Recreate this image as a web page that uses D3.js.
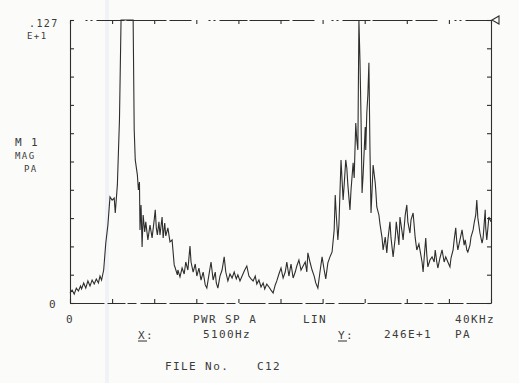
<!DOCTYPE html>
<html>
<head>
<meta charset="utf-8">
<script src="https://cdn.jsdelivr.net/npm/d3@7"></script>
<style>
  body { margin: 0; background: #fbfbf9; }
  text { font-family: "DejaVu Sans Mono", monospace; fill: #3c3c3c; }
</style>
</head>
<body>
<div id="spectrum"></div>
<script>
// power spectrum trace (kHz / linear magnitude, full scale = 127)
const freqKHz = [
  0.0,0.2,0.4,0.6,0.8,1.0,1.1,1.3,1.5,1.7,
  1.9,2.1,2.3,2.5,2.7,2.85,3.0,3.2,3.4,3.6,
  3.8,4.0,4.2,4.3,4.5,4.7,4.85,5.0,5.4,5.8,
  6.0,6.1,6.2,6.4,6.5,6.6,6.65,6.75,6.85,6.95,
  7.1,7.2,7.4,7.6,7.8,8.0,8.1,8.2,8.3,8.45,
  8.55,8.75,8.85,9.0,9.1,9.3,9.5,9.7,9.9,10.0,
  10.2,10.25,10.45,10.65,10.85,11.0,11.2,11.4,11.5,11.7,
  11.9,12.05,12.25,12.45,12.65,12.85,13.0,13.2,13.4,13.6,
  13.8,13.9,14.05,14.25,14.45,14.65,14.8,15.0,15.2,15.4,
  15.6,15.8,15.95,16.15,16.35,16.6,16.8,17.0,17.2,17.4,
  17.6,17.75,17.95,18.15,18.35,18.5,18.7,18.9,19.1,19.3,
  19.5,19.65,19.85,20.05,20.25,20.45,20.6,20.8,21.0,21.2,
  21.4,21.55,21.75,21.95,22.15,22.35,22.5,22.6,22.8,23.0,
  23.2,23.35,23.55,23.75,23.95,24.15,24.3,24.5,24.7,24.9,
  25.1,25.2,25.3,25.45,25.55,25.75,25.85,25.95,26.05,26.2,
  26.3,26.4,26.6,26.7,26.9,27.0,27.15,27.25,27.35,27.45,
  27.55,27.65,27.75,27.85,28.05,28.1,28.2,28.3,28.4,28.5,
  28.6,28.7,28.8,29.0,29.05,29.15,29.35,29.45,29.65,29.75,
  29.95,30.1,30.2,30.4,30.5,30.7,30.9,31.0,31.15,31.25,
  31.35,31.55,31.65,31.85,32.0,32.1,32.3,32.4,32.6,32.8,
  32.95,33.15,33.25,33.45,33.55,33.65,33.8,33.9,34.0,34.2,
  34.4,34.6,34.7,34.85,34.95,35.15,35.35,35.55,35.7,35.9,
  36.1,36.2,36.4,36.5,36.65,36.75,36.85,37.05,37.25,37.45,
  37.55,37.7,37.8,38.0,38.1,38.3,38.4,38.55,38.65,38.75,
  38.95,39.15,39.25,39.45,39.5,39.6,39.8,40.0
];
const magnitude = [
  4.5,5.8,4.0,6.7,5.4,7.6,6.3,9.0,6.7,9.9,
  7.6,10.3,8.5,10.8,9.0,12.1,10.3,14.8,26.9,35.0,
  47.6,46.2,47.1,40.4,53.0,82.2,130,150,160,150,
  130,77.7,64.2,57.5,50.7,54.3,32.8,44.0,25.1,39.5,
  31.9,36.4,28.3,35.0,29.2,37.3,41.8,33.7,30.5,36.4,
  30.5,38.6,29.2,35.9,30.1,33.7,27.4,28.3,17.1,15.7,
  12.6,14.8,11.7,15.7,13.0,18.4,14.8,25.6,18.4,13.9,
  17.5,12.1,15.7,10.3,13.9,8.1,6.7,12.6,18.4,10.3,
  13.9,9.0,6.7,12.1,14.8,20.7,13.9,9.9,13.0,11.2,
  13.9,10.8,12.6,9.9,12.1,14.8,16.6,12.1,10.8,9.9,
  12.1,8.5,10.3,7.2,9.0,6.3,8.5,7.2,5.8,4.5,
  8.1,9.9,13.0,15.7,11.2,13.9,18.4,12.1,17.5,11.2,
  13.9,16.6,19.3,14.8,16.6,18.4,13.9,22.5,18.4,14.8,
  12.1,9.0,6.7,13.9,20.7,14.8,10.8,18.0,20.7,22.9,
  32.8,48.5,39.5,28.3,35.0,64.2,55.2,46.2,53.0,64.2,
  60.6,53.0,41.8,50.7,62.9,56.1,80.8,73.2,68.7,130,
  109.1,83.5,49.4,57.5,79.0,68.7,85.3,93.4,107.8,68.7,
  40.4,50.7,61.9,53.9,50.7,43.1,39.5,35.5,29.2,23.8,
  29.6,22.5,28.3,36.4,29.2,20.7,29.2,36.4,30.5,26.0,
  38.6,31.9,28.3,39.5,44.0,36.4,31.4,37.3,40.4,29.2,
  23.8,26.5,23.8,18.4,13.9,20.2,29.2,21.6,16.2,19.3,
  20.7,18.4,23.8,18.4,15.7,20.2,23.8,18.4,20.7,18.4,
  16.2,20.2,23.8,28.3,33.7,27.4,23.8,28.3,32.8,26.0,
  28.3,23.8,22.9,26.0,29.6,32.8,35.9,39.5,46.2,38.2,
  31.4,26.9,29.2,41.8,33.7,28.3,38.6,36.4
];
const xTickKHz = [0,4,8,12,16,20,24,28,32,36,40];
const yTickVals = [0,12.7,25.4,38.1,50.8,63.5,76.2,88.9,101.6,114.3,127];

const width = 519, height = 383;
const margin = {left: 70, right: 28, top: 20, bottom: 80};

var svg = d3.select("#spectrum")
    .append("svg")
    .attr("width", width)
    .attr("height", height);

svg.append("rect").attr("width", width).attr("height", height).attr("fill", "#fbfbf9");
// faint scanner streak
svg.append("rect").attr("x", 105).attr("y", 0).attr("width", 4).attr("height", height)
    .attr("fill", "#e9eff5").attr("opacity", 0.7);

var x = d3.scaleLinear().domain([0, 40]).range([margin.left, width - margin.right]);
var y = d3.scaleLinear().domain([0, 127]).range([height - margin.bottom, margin.top]).clamp(true);

const ink = "#2e2e2e";

const drawAxis = (axis, tx, ty, dash) => {
    var g = svg.append("g").attr("transform", "translate(" + tx + "," + ty + ")").call(axis);
    g.selectAll("path, line").attr("stroke", ink).attr("stroke-width", 1.1);
    if (dash) g.select(".domain").attr("stroke-dasharray", dash);
    g.selectAll("text").remove();
    return g;
}

drawAxis(d3.axisBottom(x).tickValues(xTickKHz).tickSizeInner(-4).tickSizeOuter(0), 0, y(0), "34,3,18,2,9,4,26,3");
drawAxis(d3.axisTop(x).tickValues(xTickKHz).tickSizeInner(-4).tickSizeOuter(0), 0, y(127), "0,15,2,3,2,4,28,2,40,3,22,2");
drawAxis(d3.axisLeft(y).tickValues(yTickVals).tickSizeInner(-4).tickSizeOuter(0), x(0), 0);
drawAxis(d3.axisRight(y).tickValues(yTickVals).tickSizeInner(-4).tickSizeOuter(0), x(40), 0);

// reference level marker
svg.append("path")
    .attr("d", "M" + (x(40) + 1) + "," + y(127) + "l7,-4v8z")
    .attr("fill", "none").attr("stroke", ink).attr("stroke-width", 1.1);

// spectrum trace
var line = d3.line().x(d => x(d[0])).y(d => y(d[1]));
svg.append("path")
    .datum(d3.zip(freqKHz, magnitude))
    .attr("d", line)
    .attr("fill", "none")
    .attr("stroke", ink)
    .attr("stroke-width", 1.1);

const label = (txt, px, py, size) => {
    return svg.append("text")
        .attr("x", px).attr("y", py)
        .attr("font-size", size || 11)
        .attr("letter-spacing", "1.4px")
        .text(txt);
}

label(".127", 29, 27, 10);
label("E+1", 27, 39, 9);
label("M 1", 15, 146, 11);
label("MAG", 15, 159, 9);
label("PA", 24, 172, 9);
label("0", 49, 308, 11);
label("0", 66, 323, 11);
label("PWR SP A", 193, 323);
label("LIN", 303, 323);
label("40KHz", 455, 323);
label("X:", 138, 339);
label("5100Hz", 203, 338);
label("Y:", 338, 339);
label("246E+1", 384, 338);
label("PA", 455, 338);
label("FILE No.", 165, 370);
label("C12", 257, 370);
// cursor markers are underlined on the plot
svg.append("line").attr("x1", 138).attr("x2", 147).attr("y1", 341).attr("y2", 341).attr("stroke", ink);
svg.append("line").attr("x1", 338).attr("x2", 347).attr("y1", 341).attr("y2", 341).attr("stroke", ink);
</script>
</body>
</html>
